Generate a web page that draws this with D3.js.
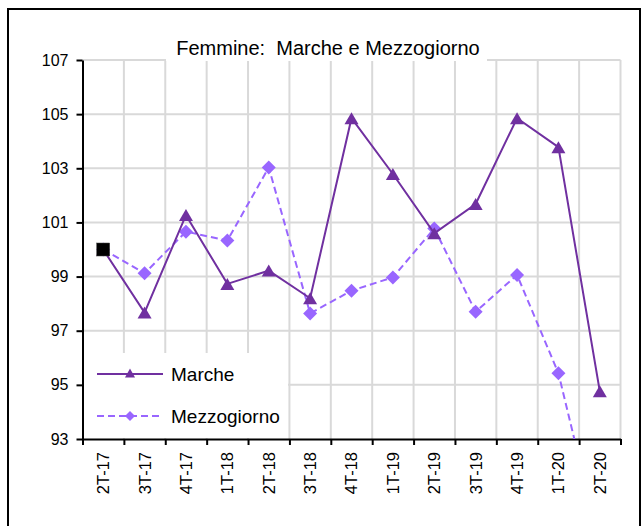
<!DOCTYPE html>
<html>
<head>
<meta charset="utf-8">
<script src="https://cdn.jsdelivr.net/npm/d3@7/dist/d3.min.js"></script>
<style>
  html, body { margin: 0; padding: 0; background: #fff; }
  svg { display: block; font-family: "Liberation Sans", Arial, sans-serif; }
</style>
</head>
<body>
<svg id="chart" width="644" height="526"></svg>
<script>
// Quarterly index values (2T-17 = 100)
const categories = ["2T-17","3T-17","4T-17","1T-18","2T-18","3T-18","4T-18","1T-19","2T-19","3T-19","4T-19","1T-20","2T-20"];
const marche      = [100, 97.67, 101.27, 98.73, 99.22, 98.2, 104.85, 102.79, 100.6, 101.68, 104.85, 103.78, 94.76];
const mezzogiorno = [100, 99.12, 100.66, 100.33, 103.03, 97.64, 98.48, 98.97, 100.78, 97.7, 99.06, 95.43, 89.1];
const yTicks = [93, 95, 97, 99, 101, 103, 105, 107];
const titleText = "Femmine:  Marche e Mezzogiorno";
const seriesNames = ["Marche", "Mezzogiorno"];

const colMarche = "#7030a0";
const colMezz = "#9966ff";
const gridCol = "#d9d9d9";

const svg = d3.select("#chart");

// outer frame
svg.append("rect")
  .attr("x", 8).attr("y", 9).attr("width", 632).attr("height", 540)
  .attr("fill", "#fff").attr("stroke", "#000").attr("stroke-width", 2);

const plotL = 82.5, plotR = 620.5, plotT = 60, plotB = 439;

const x = d3.scaleBand().domain(categories).range([plotL, plotR]).padding(0);
const xEdge = d3.scaleLinear().domain([0, categories.length]).range([plotL, plotR]);
const y = d3.scaleLinear().domain([93, 107]).range([plotB, plotT]);
const cx = c => x(c) + x.bandwidth() / 2;

// gridlines
const grid = svg.append("g");
grid.selectAll("line.h").data(yTicks.filter(t => t !== 93)).join("line")
  .attr("class", "h")
  .attr("x1", plotL).attr("x2", plotR)
  .attr("y1", d => y(d)).attr("y2", d => y(d))
  .attr("stroke", gridCol).attr("stroke-width", 2);
grid.selectAll("line.v").data(d3.range(1, categories.length + 1)).join("line")
  .attr("class", "v")
  .attr("x1", d => xEdge(d)).attr("x2", d => xEdge(d))
  .attr("y1", plotT).attr("y2", plotB)
  .attr("stroke", gridCol).attr("stroke-width", 2);

// white panels behind title and legend
svg.append("rect").attr("x", 166).attr("y", 34).attr("width", 321).attr("height", 27).attr("fill", "#fff");
svg.append("rect").attr("x", 84).attr("y", 353).attr("width", 204).attr("height", 85).attr("fill", "#fff");

// title
svg.append("text")
  .attr("x", 328).attr("y", 55)
  .attr("text-anchor", "middle")
  .attr("font-size", 20)
  .attr("fill", "#000")
  .style("white-space", "pre")
  .text(titleText);

// y axis
const yAxis = svg.append("g")
  .attr("transform", `translate(${plotL},0)`)
  .call(d3.axisLeft(y).tickValues(yTicks).tickSize(6).tickSizeOuter(0).tickPadding(8));
yAxis.select(".domain").attr("stroke", "#000").attr("stroke-width", 2);
yAxis.selectAll(".tick line").attr("stroke", "#000").attr("stroke-width", 2);
yAxis.selectAll(".tick text").attr("font-size", 16).attr("fill", "#000")
  .attr("font-family", "Liberation Sans, Arial, sans-serif");

// x axis: ticks at category boundaries
const xAxis = svg.append("g")
  .attr("transform", `translate(0,${plotB})`)
  .call(d3.axisBottom(xEdge).tickValues(d3.range(categories.length + 1)).tickFormat("").tickSize(6).tickSizeOuter(0));
xAxis.select(".domain").attr("stroke", "#000").attr("stroke-width", 2);
xAxis.selectAll(".tick line").attr("stroke", "#000").attr("stroke-width", 2);

// x labels, rotated
const xLab = svg.append("g")
  .attr("transform", `translate(0,${plotB})`)
  .call(d3.axisBottom(x).tickSize(0).tickSizeOuter(0));
xLab.select(".domain").remove();
xLab.selectAll(".tick text")
  .attr("font-size", 16.5).attr("fill", "#000")
  .attr("font-family", "Liberation Sans, Arial, sans-serif")
  .attr("text-anchor", "end")
  .attr("transform", "rotate(-90)")
  .attr("x", -13).attr("y", 0).attr("dy", "0.36em");

// clip to plot area
svg.append("clipPath").attr("id", "plotClip")
  .append("rect").attr("x", plotL).attr("y", plotT - 10).attr("width", plotR - plotL + 10).attr("height", plotB - plotT + 10);

const plot = svg.append("g").attr("clip-path", "url(#plotClip)");

const line = d3.line().x((d, i) => cx(categories[i])).y(d => y(d));

const triPath = (w, h) => `M0,${-h/2}L${w/2},${h/2}L${-w/2},${h/2}Z`;
const diaPath = r => `M0,${-r}L${r},0L0,${r}L${-r},0Z`;

// Mezzogiorno
plot.append("path").datum(mezzogiorno)
  .attr("d", line).attr("fill", "none")
  .attr("stroke", colMezz).attr("stroke-width", 2).attr("stroke-dasharray", "7,4");
plot.selectAll("path.dm").data(mezzogiorno).join("path")
  .attr("class", "dm")
  .attr("d", diaPath(7))
  .attr("transform", (d, i) => `translate(${cx(categories[i])},${y(d)})`)
  .attr("fill", colMezz);

// Marche
plot.append("path").datum(marche)
  .attr("d", line).attr("fill", "none")
  .attr("stroke", colMarche).attr("stroke-width", 2);
plot.selectAll("path.tm").data(marche).join("path")
  .attr("class", "tm")
  .attr("d", triPath(14, 12))
  .attr("transform", (d, i) => `translate(${cx(categories[i])},${y(d)})`)
  .attr("fill", colMarche);

// base period marker
svg.append("rect")
  .attr("x", cx(categories[0]) - 6.5).attr("y", y(marche[0]) - 6.5)
  .attr("width", 13).attr("height", 13)
  .attr("fill", "#000").attr("stroke", "#444").attr("stroke-width", 0.5);

// legend
const lg = svg.append("g");
lg.append("line").attr("x1", 97).attr("x2", 163).attr("y1", 374).attr("y2", 374)
  .attr("stroke", colMarche).attr("stroke-width", 2);
lg.append("path").attr("d", triPath(10, 9)).attr("transform", "translate(130,373)").attr("fill", colMarche);
lg.append("text").attr("x", 171).attr("y", 381).attr("font-size", 19).attr("fill", "#000").text(seriesNames[0]);

lg.append("line").attr("x1", 97).attr("x2", 161).attr("y1", 416).attr("y2", 416)
  .attr("stroke", colMezz).attr("stroke-width", 2).attr("stroke-dasharray", "7,4");
lg.append("path").attr("d", diaPath(5)).attr("transform", "translate(130,416)").attr("fill", colMezz);
lg.append("text").attr("x", 171).attr("y", 423).attr("font-size", 19).attr("fill", "#000").text(seriesNames[1]);
</script>
</body>
</html>
